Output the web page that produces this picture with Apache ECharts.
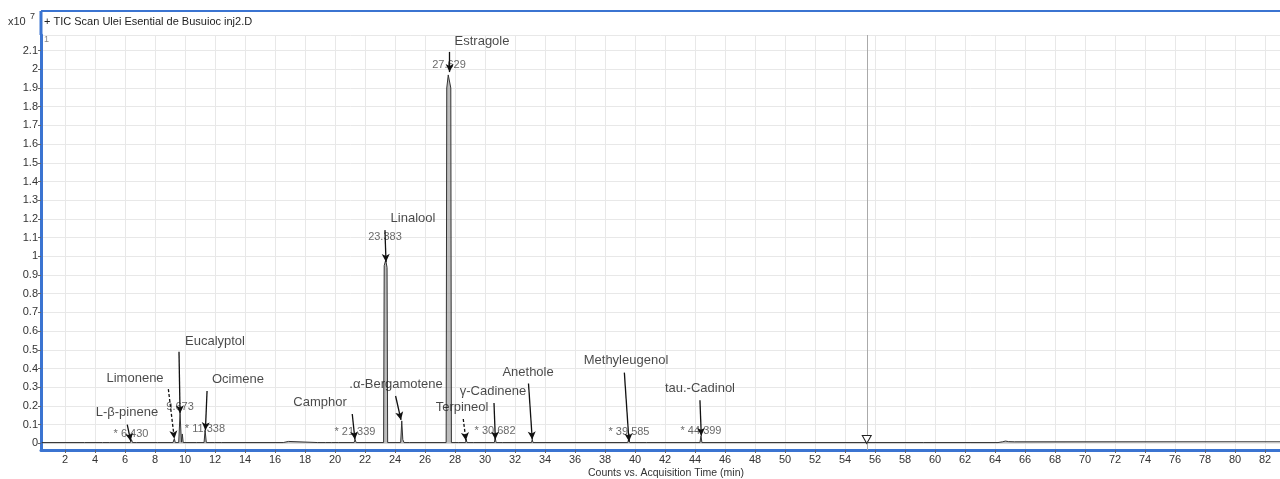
<!DOCTYPE html>
<html>
<head>
<meta charset="utf-8">
<script src="https://cdn.jsdelivr.net/npm/echarts@6/dist/echarts.min.js"></script>
<style>
  html, body { margin: 0; padding: 0; background: #fff; }
  #main { width: 1280px; height: 479px; }
</style>
</head>
<body>
<div id="main"></div>
<script>
// TIC trace, counts in units of 1e7, time in min
const traceTime = [
  0.45, 1.6, 1.7, 1.8, 2.0, 2.05, 2.1, 3.3, 3.35, 3.4, 4.5, 4.55, 4.6, 4.95, 5.0, 5.05,
  6.35, 6.43, 6.5, 6.75, 6.8, 6.85, 8.15, 8.2, 8.25, 9.2, 9.29, 9.35,
  9.58, 9.67, 9.76, 9.82, 9.88, 10.75, 10.8, 10.85, 11.27, 11.34, 11.42,
  11.95, 12.0, 12.05, 12.45, 12.5, 12.55, 16.55, 16.6, 16.9, 16.95,
  18.85, 18.9, 18.95, 19.35, 19.4, 19.45, 19.75, 19.8, 19.85, 20.25, 20.3, 20.35,
  21.27, 21.34, 21.41, 23.24, 23.28, 23.38, 23.47, 23.51,
  24.38, 24.45, 24.52, 24.6, 24.95, 25.0, 25.05,
  27.41, 27.45, 27.55, 27.64, 27.72, 27.76, 28.25, 28.3, 28.35,
  28.7, 28.75, 28.8, 29.25, 29.3, 29.35, 30.62, 30.68, 30.74, 31.15, 31.2, 31.25,
  33.1, 33.15, 33.2, 39.52, 39.585, 39.65, 40.75, 40.8, 40.85,
  44.33, 44.4, 44.46, 59.25, 59.3, 59.35, 64.2, 64.3, 64.5, 64.7, 64.9, 65.0, 65.3, 83.0
];
const traceCounts = [
  0.004, 0.004, 0.008, 0.004, 0.004, 0.012, 0.004, 0.004, 0.008, 0.004, 0.004, 0.01, 0.004, 0.004, 0.008, 0.004,
  0.004, 0.02, 0.004, 0.004, 0.008, 0.004, 0.004, 0.008, 0.004, 0.004, 0.025, 0.004,
  0.004, 0.16, 0.006, 0.05, 0.004, 0.004, 0.008, 0.004, 0.004, 0.07, 0.004,
  0.004, 0.008, 0.004, 0.004, 0.008, 0.004, 0.004, 0.01, 0.01, 0.004,
  0.004, 0.008, 0.004, 0.004, 0.009, 0.004, 0.004, 0.008, 0.004, 0.004, 0.009, 0.004,
  0.004, 0.02, 0.004, 0.004, 0.95, 0.98, 0.94, 0.004,
  0.004, 0.12, 0.02, 0.004, 0.004, 0.008, 0.004,
  0.004, 1.9, 1.97, 1.98, 1.9, 0.004, 0.004, 0.01, 0.004,
  0.004, 0.02, 0.004, 0.004, 0.008, 0.004, 0.004, 0.03, 0.004, 0.004, 0.008, 0.004,
  0.004, 0.02, 0.004, 0.004, 0.025, 0.004, 0.004, 0.008, 0.004,
  0.004, 0.04, 0.004, 0.004, 0.01, 0.004, 0.004, 0.012, 0.008, 0.012, 0.009, 0.008, 0.008, 0.008
];

// compound annotations
const compoundNames = ['L-β-pinene', 'Limonene', 'Eucalyptol', 'Ocimene', 'Camphor', 'Linalool',
  '.α-Bergamotene', 'Estragole', 'Terpineol', 'γ-Cadinene', 'Anethole', 'Methyleugenol', 'tau.-Cadinol'];
const nameAnchors = [[6.13, 0.163], [6.67, 0.349], [12.0, 0.547], [13.53, 0.344], [19.0, 0.216], [25.2, 1.2],
  [24.07, 0.317], [29.8, 2.151], [28.47, 0.194], [30.53, 0.28], [32.87, 0.381], [39.4, 0.445], [44.33, 0.296]];
const arrowFrom = [[6.15, 0.10], [8.89, 0.29], [9.6, 0.49], [11.47, 0.28], [21.15, 0.157], [23.33, 1.14],
  [24.04, 0.253], [27.64, 2.093], [28.55, 0.13], [30.6, 0.215], [32.9, 0.32], [39.29, 0.378], [44.33, 0.23]];
const arrowTo = [[6.38, 0.012], [9.29, 0.025], [9.67, 0.16], [11.36, 0.07], [21.33, 0.02], [23.4, 0.97],
  [24.4, 0.125], [27.64, 1.985], [28.73, 0.015], [30.69, 0.02], [33.15, 0.02], [39.6, 0.01], [44.42, 0.04]];
const dashedArrows = ['Limonene', 'Terpineol'];

const rtLabels = ['* 6.430', '9.673', '* 11.338', '* 21.339', '23.383', '27.629', '* 30.682', '* 39.585', '* 44.399'];
const rtAnchors = [[6.4, 0.05], [9.67, 0.194], [11.33, 0.076], [21.33, 0.06], [23.33, 1.104], [27.6, 2.023],
  [30.67, 0.066], [39.6, 0.06], [44.4, 0.066]];

const markerTime = 55.45;

var chart = echarts.init(document.getElementById('main'), null, { renderer: 'canvas' });

var traceData = traceTime.map(function (t, i) { return [t, traceCounts[i]]; });

var arrowLines = compoundNames.map(function (n, i) {
  return [
    { coord: arrowFrom[i], lineStyle: { type: dashedArrows.indexOf(n) >= 0 ? [3, 2] : 'solid' } },
    { coord: arrowTo[i] }
  ];
});

var font = '"Liberation Sans", Arial, sans-serif';

var option = {
  animation: false,
  backgroundColor: '#fff',
  grid: { left: 41, right: 0, top: 35, bottom: 29, containLabel: false },
  xAxis: {
    type: 'value',
    min: 0.4,
    max: 83.0,
    minInterval: 2,
    maxInterval: 2,
    splitNumber: 41,
    axisLine: { show: true, onZero: false, lineStyle: { color: '#3b74d1', width: 3 } },
    axisTick: { show: true, length: 3, lineStyle: { color: '#666' } },
    axisLabel: { show: true, interval: 0, showMinLabel: false, showMaxLabel: false, margin: 4,
      color: '#333', fontSize: 11, fontFamily: font },
    splitLine: { show: true, lineStyle: { color: '#e8e8e8', width: 1 } }
  },
  yAxis: {
    type: 'value',
    min: -0.0358,
    max: 2.1834,
    minInterval: 0.1,
    maxInterval: 0.1,
    splitNumber: 22,
    axisLine: { show: true, lineStyle: { color: '#3b74d1', width: 3 } },
    axisTick: { show: true, length: 3, lineStyle: { color: '#666' } },
    axisLabel: { show: true, showMinLabel: false, showMaxLabel: false, margin: 3,
      color: '#333', fontSize: 11, fontFamily: font },
    splitLine: { show: true, lineStyle: { color: '#e8e8e8', width: 1 } }
  },
  series: [
    {
      name: 'TIC',
      type: 'line',
      data: traceData,
      symbol: 'none',
      smooth: false,
      lineStyle: { color: '#333', width: 1 },
      areaStyle: { color: 'rgba(120,120,120,0.7)', origin: 0 },
      z: 3,
      markLine: {
        silent: true,
        symbol: ['none', 'none'],
        label: { show: false },
        lineStyle: { color: '#aaa', width: 1, type: 'solid' },
        data: [{ xAxis: markerTime }]
      },
      markPoint: {
        silent: true,
        symbol: 'triangle',
        symbolRotate: 180,
        symbolSize: [9, 8],
        itemStyle: { color: '#fff', borderColor: '#222', borderWidth: 1 },
        label: { show: false },
        data: [{ coord: [markerTime, 0.02] }]
      }
    },
    {
      name: 'arrows',
      type: 'line',
      data: [],
      markLine: {
        silent: true,
        symbol: ['none', 'arrow'],
        symbolSize: [6, 8],
        label: { show: false },
        lineStyle: { color: '#111', width: 1.3, type: 'solid' },
        data: arrowLines
      },
      z: 4
    },
    {
      name: 'names',
      type: 'scatter',
      symbolSize: 1,
      itemStyle: { color: 'rgba(0,0,0,0)' },
      data: nameAnchors.map(function (p, i) { return { value: p, name: compoundNames[i] }; }),
      label: {
        show: true, position: 'inside', formatter: '{b}',
        color: '#1a1a1a', fontSize: 13, fontFamily: font
      },
      silent: true,
      z: 5
    },
    {
      name: 'rt',
      type: 'scatter',
      symbolSize: 1,
      itemStyle: { color: 'rgba(0,0,0,0)' },
      data: rtAnchors.map(function (p, i) { return { value: p, name: rtLabels[i] }; }),
      label: {
        show: true, position: 'inside', formatter: '{b}',
        color: '#444', fontSize: 11, fontFamily: font
      },
      silent: true,
      z: 2
    }
  ],
  graphic: [
    { type: 'line', shape: { x1: 41, y1: 11, x2: 1280, y2: 11 }, style: { stroke: '#3b74d1', lineWidth: 2 }, z: 10 },
    { type: 'line', shape: { x1: 41, y1: 11, x2: 41, y2: 35 }, style: { stroke: '#3b74d1', lineWidth: 3 }, z: 10 },
    { type: 'text', left: 44, top: 16, style: { text: '+ TIC Scan Ulei Esential de Busuioc inj2.D', fill: '#222', fontSize: 11, fontFamily: font } },
    { type: 'text', left: 8, top: 16, style: { text: 'x10', fill: '#333', fontSize: 11, fontFamily: font } },
    { type: 'text', left: 30, top: 12, style: { text: '7', fill: '#333', fontSize: 9, fontFamily: font } },
    { type: 'text', left: 44, top: 35, style: { text: '1', fill: '#888', fontSize: 9, fontFamily: font } },
    { type: 'text', left: 588, top: 468, style: { text: 'Counts vs. Acquisition Time (min)', fill: '#333', fontSize: 10.5, fontFamily: font } }
  ]
};

chart.setOption(option);
</script>
</body>
</html>
